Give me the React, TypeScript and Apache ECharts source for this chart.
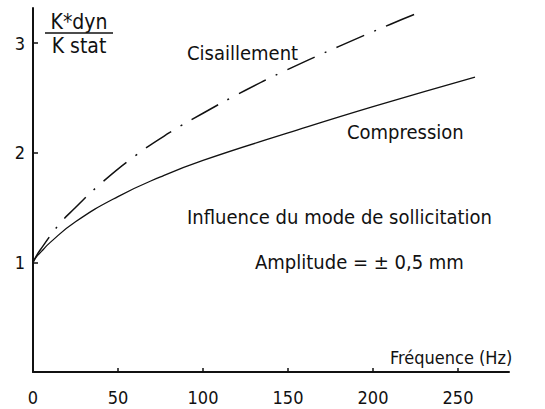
import React, { useEffect, useRef } from "react";
import * as echarts from "echarts";

const xTicks = [0, 50, 100, 150, 200, 250];
const yTicks = [1, 2, 3];
const compFreq = [0, 2, 5, 10, 25, 50, 75, 100, 150, 200, 260];
const compression = [1.0, 1.05, 1.1, 1.18, 1.37, 1.6, 1.78, 1.93, 2.18, 2.42, 2.69];
const cisFreq = [0, 2, 5, 15, 25, 40, 60, 80, 100, 125, 150, 180, 210, 229];
const cisaillement = [1.0, 1.06, 1.13, 1.34, 1.5, 1.72, 1.97, 2.18, 2.36, 2.57, 2.76, 2.97, 3.17, 3.29];

const FONT = "DejaVu Sans Condensed, DejaVu Sans, sans-serif";
const INK = "#111";

export default function App() {
  const ref = useRef<HTMLDivElement>(null);
  useEffect(() => {
    if (!ref.current) return;
    const chart = echarts.init(ref.current, null, { renderer: "svg" });
    const txt = (text: string, x: number, y: number, size: number, align = "left") => ({
      type: "text",
      x,
      y,
      style: { text, fill: INK, font: `${size}px ${FONT}`, textAlign: align, textVerticalAlign: "middle" },
    });
    chart.setOption({
      animation: false,
      backgroundColor: "#fff",
      grid: { left: 33, right: 36, top: 8, bottom: 37 },
      xAxis: {
        type: "value",
        min: 0,
        max: 280,
        interval: 50,
        axisLine: { lineStyle: { color: INK, width: 2 } },
        axisTick: { inside: true, length: 4, customValues: xTicks.slice(1), lineStyle: { color: INK, width: 1.5 } },
        axisLabel: { customValues: xTicks, color: INK, fontSize: 18, fontFamily: FONT, margin: 16 },
        splitLine: { show: false },
      },
      yAxis: {
        type: "value",
        min: 0,
        max: 3.32,
        axisLine: { show: true, lineStyle: { color: INK, width: 2 } },
        axisTick: { show: true, inside: true, length: 5, customValues: yTicks, lineStyle: { color: INK, width: 1.5 } },
        axisLabel: { customValues: yTicks, color: INK, fontSize: 18, fontFamily: FONT, margin: 8 },
        splitLine: { show: false },
      },
      series: [
        {
          type: "line",
          name: "Compression",
          data: compFreq.map((f, i) => [f, compression[i]]),
          smooth: true,
          showSymbol: false,
          lineStyle: { color: INK, width: 1.3 },
        },
        {
          type: "line",
          name: "Cisaillement",
          data: cisFreq.map((f, i) => [f, cisaillement[i]]),
          smooth: true,
          showSymbol: false,
          lineStyle: { color: INK, width: 1.5, type: [30, 11, 2, 11] },
        },
      ],
      graphic: [
        txt("K*dyn", 79, 22, 21, "center"),
        { type: "line", shape: { x1: 45, y1: 33, x2: 113, y2: 33 }, style: { stroke: INK, lineWidth: 1.5 } },
        txt("K stat", 79, 46, 21, "center"),
        txt("Cisaillement", 187, 53, 20),
        txt("Compression", 347, 132, 20),
        txt("Influence du mode de sollicitation", 187, 217, 20),
        txt("Amplitude = ± 0,5 mm", 255, 262, 20),
        txt("Fréquence (Hz)", 390, 357, 18),
      ],
    });
    return () => chart.dispose();
  }, []);
  return <div ref={ref} style={{ position: "fixed", left: 0, top: 0, width: 545, height: 409 }} />;
}
